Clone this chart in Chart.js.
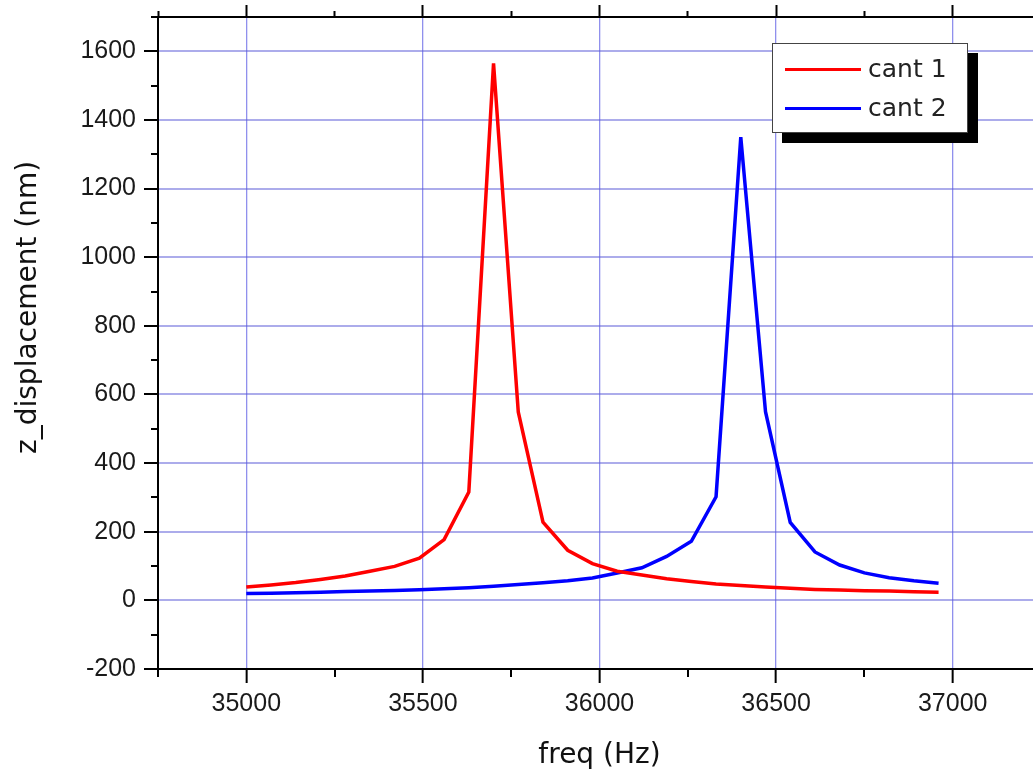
<!DOCTYPE html>
<html>
<head>
<meta charset="utf-8">
<script src="https://cdn.jsdelivr.net/npm/chart.js@4"></script>
<style>
  html, body { margin: 0; padding: 0; background: #fff; overflow: hidden; }
  #wrap { position: absolute; left: 0; top: 0; width: 1060px; height: 773px; }
  #legend {
    position: absolute; left: 772px; top: 43px; width: 194px; height: 88px;
    background: #fff; border: 1.5px solid #444; box-shadow: 10px 10px 0 0 #000;
    font-family: "DejaVu Sans", sans-serif; font-size: 25px; color: #222;
  }
  .row { position: absolute; left: 0; height: 30px; width: 100%; }
  .row .ln { position: absolute; left: 12px; top: 14px; width: 76px; height: 3px; }
  .row .tx { position: absolute; left: 95px; top: 0; line-height: 30px; white-space: nowrap; }
</style>
</head>
<body>
<div id="wrap"><canvas id="myChart"></canvas></div>
<div id="legend"></div>
<script>
// 데이터
const freq = [35000, 35070, 35140, 35210, 35280, 35350, 35420, 35490, 35560, 35630,
              35700, 35770, 35840, 35910, 35980, 36050, 36120, 36190, 36260, 36330,
              36400, 36470, 36540, 36610, 36680, 36750, 36820, 36890, 36960];
const cant1 = [39, 45, 52, 61, 71, 85, 99, 123, 177, 316,
               1565, 549, 228, 146, 107, 85, 74, 63, 55, 48,
               43, 39, 35, 32, 30, 28, 27, 25, 24];
const cant2 = [20, 21, 22, 24, 26, 27, 29, 31, 34, 37,
               41, 46, 51, 57, 65, 80, 95, 128, 172, 302,
               1350, 550, 227, 141, 103, 80, 66, 57, 50];
const seriesNames = ["cant 1", "cant 2"];
const seriesColors = ["#ff0000", "#0000ff"];
const xMin = 34750, xMax = 37250, xStep = 250, xMajor = 500;
const yMin = -200, yMax = 1700, yStep = 100, yMajor = 200;

// 1. 점 배열 만들기
function points(values) {
  let arr = [];
  for (let i = 0; i < freq.length; i++) {
    arr.push({ x: freq[i], y: values[i] });
  }
  return arr;
}

const isMajorX = (ctx) => ctx.tick && ctx.tick.value % xMajor === 0;
const isMajorY = (ctx) => ctx.tick && ctx.tick.value % yMajor === 0;

// 축 크기 고정 (라벨 여백 없애기)
function fixSize(s, w, h) {
  if (w !== null) s.width = w;
  if (h !== null) s.height = h;
  s.paddingTop = 0; s.paddingBottom = 0;
  s.paddingLeft = 0; s.paddingRight = 0;
}

const tickFont = { family: "'Liberation Sans', Arial, sans-serif", size: 25 };
const titleFont = { family: "'DejaVu Sans', sans-serif", size: 28 };

const ctx = document.getElementById('myChart');

new Chart(ctx, {
  type: 'line',
  data: {
    datasets: [
      { label: seriesNames[0], data: points(cant1), borderColor: seriesColors[0], borderWidth: 3.5, pointRadius: 0, tension: 0 },
      { label: seriesNames[1], data: points(cant2), borderColor: seriesColors[1], borderWidth: 3.5, pointRadius: 0, tension: 0 }
    ]
  },
  options: {
    responsive: true,
    maintainAspectRatio: false,
    animation: false,
    layout: { padding: { left: 0, top: 0, right: 19, bottom: 0 } },
    plugins: { legend: { display: false }, tooltip: { enabled: false } },
    scales: {
      x: {
        type: 'linear', position: 'bottom', min: xMin, max: xMax,
        afterFit: (s) => fixSize(s, null, 104),
        ticks: {
          stepSize: xStep, autoSkip: false, maxRotation: 0, padding: 6,
          color: '#1a1a1a', font: tickFont,
          callback: (v) => (v % xMajor === 0 ? String(v) : '')
        },
        grid: {
          color: (c) => (isMajorX(c) ? 'rgba(70,70,225,0.6)' : 'rgba(0,0,0,0)'),
          lineWidth: (c) => (isMajorX(c) ? 1.3 : 0),
          tickColor: '#000', tickWidth: 2, tickLength: 14,
          tickBorderDash: (c) => (isMajorX(c) ? [] : [7, 100])
        },
        border: { display: true, color: '#000', width: 2 },
        title: { display: true, text: 'freq (Hz)', color: '#111', font: titleFont, padding: { top: 0, bottom: 0 } }
      },
      x2: {
        type: 'linear', position: 'top', min: xMin, max: xMax,
        afterFit: (s) => fixSize(s, null, 17),
        ticks: { stepSize: xStep, autoSkip: false, display: false },
        grid: {
          drawOnChartArea: false,
          tickColor: '#000', tickWidth: 2, tickLength: 12,
          tickBorderDash: (c) => (isMajorX(c) ? [] : [0, 6, 6, 100])
        },
        border: { display: true, color: '#000', width: 2 }
      },
      y: {
        type: 'linear', position: 'left', min: yMin, max: yMax,
        afterFit: (s) => fixSize(s, 158, null),
        ticks: {
          stepSize: yStep, autoSkip: false, padding: 8,
          color: '#1a1a1a', font: tickFont,
          callback: (v) => (v % yMajor === 0 ? String(v) : '')
        },
        grid: {
          color: (c) => (isMajorY(c) ? 'rgba(90,90,215,0.5)' : 'rgba(0,0,0,0)'),
          lineWidth: (c) => (isMajorY(c) ? 2 : 0),
          tickColor: '#000', tickWidth: 2, tickLength: 14,
          tickBorderDash: (c) => (isMajorY(c) ? [] : [0, 7, 7, 100])
        },
        border: { display: true, color: '#000', width: 2 },
        title: { display: true, text: '        z_displacement (nm)', color: '#111', font: titleFont, padding: { top: 12, bottom: 0 } }
      }
    }
  }
});

// 2. 범례 (HTML)
const legend = document.getElementById('legend');
for (let i = 0; i < seriesNames.length; i++) {
  legend.innerHTML += `
    <div class="row" style="top:${10 + i * 39}px">
      <div class="ln" style="background:${seriesColors[i]}"></div>
      <div class="tx">${seriesNames[i]}</div>
    </div>
  `;
}
</script>
</body>
</html>
